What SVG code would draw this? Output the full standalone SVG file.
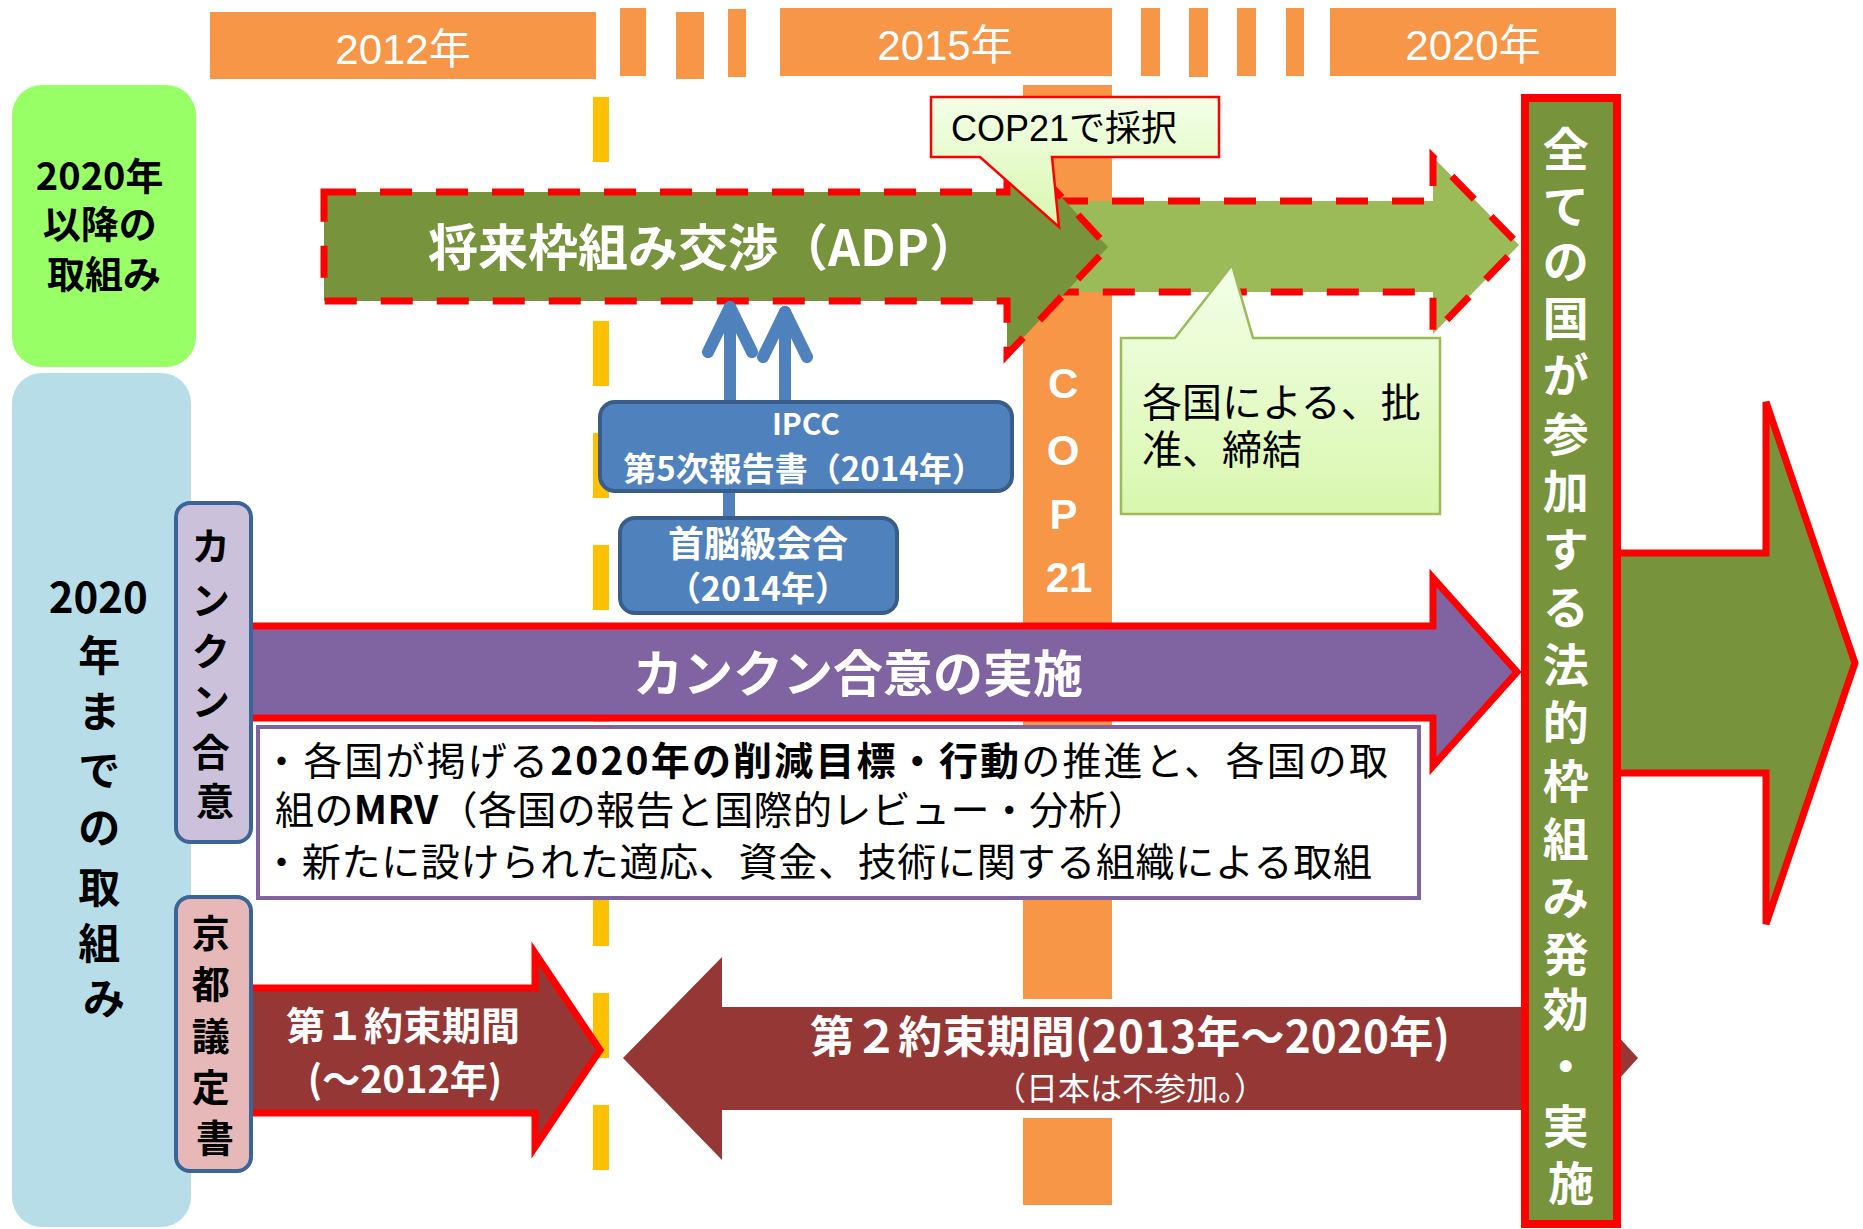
<svg xmlns="http://www.w3.org/2000/svg" width="1863" height="1229" viewBox="0 0 1863 1229">
<defs>
<style>
.jp{font-family:"Noto Sans CJK JP","Noto Sans CJK SC",sans-serif;}
.lat{font-family:"Liberation Sans","Noto Sans CJK JP",sans-serif;}
.w{fill:#FFFFFF;}
.k{fill:#000000;}
.b{font-weight:bold;}
.mid{text-anchor:middle;}
.orange{fill:#F79646;}
.dash{stroke:#FF0000;stroke-width:7;stroke-dasharray:32 24;}
.blueln{stroke:#4F81BD;stroke-width:12;fill:none;stroke-linecap:round;stroke-linejoin:round;}
.bluebox{fill:#4F81BD;stroke:#385D8A;stroke-width:4;}
.side{stroke:#3C6496;stroke-width:4;}
</style>
<linearGradient id="callout" x1="0" y1="0" x2="0" y2="1">
<stop offset="0" stop-color="#F3FFE8"/>
<stop offset="1" stop-color="#D9F7AE"/>
</linearGradient>
</defs>

<!-- timeline bars -->
<g id="timeline">
<rect class="orange" x="210" y="12" width="386" height="67"/>
<rect class="orange" x="620" y="8" width="26" height="68"/>
<rect class="orange" x="676" y="12" width="28" height="67"/>
<rect class="orange" x="728" y="9" width="18" height="68"/>
<rect class="orange" x="780" y="8" width="332" height="68"/>
<rect class="orange" x="1141" y="8" width="19" height="68"/>
<rect class="orange" x="1189" y="8" width="19" height="69"/>
<rect class="orange" x="1237" y="8" width="19" height="68"/>
<rect class="orange" x="1286" y="8" width="18" height="68"/>
<rect class="orange" x="1330" y="8" width="286" height="68"/>
<text class="lat w mid" x="403" y="64" font-size="42">2012年</text>
<text class="lat w mid" x="945" y="60" font-size="42">2015年</text>
<text class="lat w mid" x="1473" y="60" font-size="42">2020年</text>
</g>

<!-- yellow dashed 2012 line -->
<g id="line2012">
<line x1="601" y1="97" x2="601" y2="1170" stroke="#FFC000" stroke-width="16" stroke-dasharray="65 47"/>
</g>

<!-- COP21 orange bar -->
<g id="cop21bar">
<rect class="orange" x="1023" y="85" width="89" height="1120"/>
<rect x="1023" y="999" width="89" height="119" fill="#FFFFFF"/>
<text class="lat w b mid" font-size="42">
<tspan x="1069" y="398">C</tspan>
<tspan x="1069" y="465">O</tspan>
<tspan x="1069" y="529">P</tspan>
<tspan x="1069" y="592">21</tspan>
</text>
</g>

<!-- left category boxes -->
<g id="after2020">
<rect x="12" y="85" width="184" height="282" rx="30" fill="#99FF66"/>
<text class="jp k b mid" font-size="38">
<tspan x="104" y="190">2020年</tspan>
<tspan x="104" y="238">以降の</tspan>
<tspan x="104" y="288">取組み</tspan>
</text>
</g>
<g id="until2020">
<rect x="12" y="373" width="179" height="854" rx="30" fill="#B7DEE8"/>
<text class="jp k b mid" font-size="42">
<tspan x="103" y="613">2020</tspan>
<tspan x="104" y="671">年</tspan>
<tspan x="104" y="727">ま</tspan>
<tspan x="104" y="786">で</tspan>
<tspan x="104" y="843">の</tspan>
<tspan x="104" y="903">取</tspan>
<tspan x="104" y="959">組</tspan>
<tspan x="104" y="1014">み</tspan>
</text>
</g>

<!-- ADP arrows -->
<g id="adp-next">
<polygon points="1000,201 1433,201 1433,157 1519,245 1433,334 1433,292 1000,292" fill="#9BBB59" class="dash"/>
</g>
<g id="adp">
<polygon points="324,192 1007,192 1007,139 1108,247 1007,355 1007,301 324,301" fill="#77933C" class="dash"/>
<text class="jp w b" x="428" y="266" font-size="50">将来枠組み交渉（ADP）</text>
</g>

<!-- callouts -->
<g id="callout-cop21">
<path d="M931,97 H1219 V157 H1052 L1059,227 L980,157 H931 Z" fill="url(#callout)" stroke="#FF0000" stroke-width="2.5"/>
<text class="lat k" x="951" y="141" font-size="36">COP21で採択</text>
</g>
<g id="callout-ratify">
<path d="M1121,338 H1175 L1232,265 L1253,338 H1440 V514 H1121 Z" fill="url(#callout)" stroke="#9BBB59" stroke-width="2.5"/>
<text class="jp k" font-size="40">
<tspan x="1142" y="417">各国による、批</tspan>
<tspan x="1142" y="464">准、締結</tspan>
</text>
</g>

<!-- connectors (IPCC / summit) -->
<g id="connectors">
<line class="blueln" x1="729" y1="490" x2="729" y2="520" stroke-linecap="butt"/>
<line class="blueln" x1="730" y1="404" x2="730" y2="307" stroke-linecap="butt"/>
<polyline class="blueln" points="708,352 730,307 752,352"/>
<line class="blueln" x1="785" y1="404" x2="785" y2="312" stroke-linecap="butt"/>
<polyline class="blueln" points="763,357 785,312 807,357"/>
</g>

<g id="ipcc">
<rect class="bluebox" x="600" y="402" width="412" height="89" rx="15"/>
<text class="jp w b mid" x="806" y="435" font-size="30">IPCC</text>
<text class="jp w b mid" x="804" y="481" font-size="33">第5次報告書（2014年）</text>
</g>
<g id="summit">
<rect class="bluebox" x="620" y="518" width="277" height="95" rx="15"/>
<text class="jp w b mid" x="758" y="557" font-size="36">首脳級会合</text>
<text class="jp w b mid" x="758" y="601" font-size="34">（2014年）</text>
</g>

<!-- Cancun arrow -->
<g id="cancun-arrow">
<polygon points="240,626 1433,626 1433,578 1517,672 1433,766 1433,718 240,718" fill="#8064A2" stroke="#FF0000" stroke-width="7"/>
<text class="jp w b mid" x="858" y="692" font-size="50">カンクン合意の実施</text>
</g>

<g id="cancun-detail">
<rect x="258" y="727" width="1161" height="171" fill="#FFFFFF" stroke="#8064A2" stroke-width="4"/>
<text class="jp k" x="262" y="775" font-size="39" textLength="1126" lengthAdjust="spacing">・各国が掲げる<tspan class="b">2020年の削減目標・行動</tspan>の推進と、各国の取</text>
<text class="jp k" x="275" y="824" font-size="39" textLength="872" lengthAdjust="spacing">組の<tspan class="b">MRV</tspan>（各国の報告と国際的レビュー・分析）</text>
<text class="jp k" x="262" y="876" font-size="39" textLength="1110" lengthAdjust="spacing">・新たに設けられた適応、資金、技術に関する組織による取組</text>
</g>

<g id="cancun-label">
<rect class="side" x="176" y="503" width="75" height="339" rx="14" fill="#CCC1DA"/>
<text class="jp k b mid" font-size="38">
<tspan x="215" y="560">カ</tspan>
<tspan x="215" y="614">ン</tspan>
<tspan x="215" y="665">ク</tspan>
<tspan x="215" y="715">ン</tspan>
<tspan x="215" y="766">合</tspan>
<tspan x="215" y="815">意</tspan>
</text>
</g>

<!-- Kyoto commitment periods -->
<g id="period1">
<polygon points="240,988 535,988 535,953 600,1050 535,1147 535,1113 240,1113" fill="#953735" stroke="#FF0000" stroke-width="7"/>
<text class="jp w b mid" x="403" y="1040" font-size="39">第１約束期間</text>
<text class="jp w b mid" x="405" y="1093" font-size="38">(～2012年)</text>
</g>
<g id="period2">
<polygon points="623,1058 722,957 722,1007 1591,1007 1638,1058 1591,1110 722,1110 722,1160" fill="#953735"/>
<text class="jp w b mid" x="1130" y="1053" font-size="44" textLength="640" lengthAdjust="spacing">第２約束期間(2013年～2020年)</text>
<text class="jp w mid" x="1130" y="1100" font-size="32">（日本は不参加。）</text>
</g>

<g id="kyoto-label">
<rect class="side" x="176" y="897" width="75" height="274" rx="14" fill="#E6B9B8"/>
<text class="jp k b mid" font-size="38">
<tspan x="215" y="947">京</tspan>
<tspan x="215" y="998">都</tspan>
<tspan x="215" y="1050">議</tspan>
<tspan x="215" y="1101">定</tspan>
<tspan x="215" y="1152">書</tspan>
</text>
</g>

<!-- 2020 framework -->
<g id="future-arrow">
<polygon points="1600,553 1766,553 1766,402 1855,663 1766,924 1766,773 1600,773" fill="#77933C" stroke="#FF0000" stroke-width="7"/>
</g>
<g id="framework2020">
<rect x="1525" y="98" width="92" height="1126" fill="#77933C" stroke="#FF0000" stroke-width="8"/>
<text class="jp w b mid" font-size="46">
<tspan x="1571" y="166">全</tspan>
<tspan x="1571" y="223">て</tspan>
<tspan x="1571" y="278">の</tspan>
<tspan x="1571" y="335">国</tspan>
<tspan x="1571" y="392">が</tspan>
<tspan x="1571" y="451">参</tspan>
<tspan x="1571" y="508">加</tspan>
<tspan x="1571" y="566">す</tspan>
<tspan x="1571" y="624">る</tspan>
<tspan x="1571" y="682">法</tspan>
<tspan x="1571" y="739">的</tspan>
<tspan x="1571" y="798">枠</tspan>
<tspan x="1571" y="856">組</tspan>
<tspan x="1571" y="914">み</tspan>
<tspan x="1571" y="971">発</tspan>
<tspan x="1571" y="1026">効</tspan>
<tspan x="1571" y="1083">・</tspan>
<tspan x="1571" y="1143">実</tspan>
<tspan x="1571" y="1200">施</tspan>
</text>
</g>
</svg>
